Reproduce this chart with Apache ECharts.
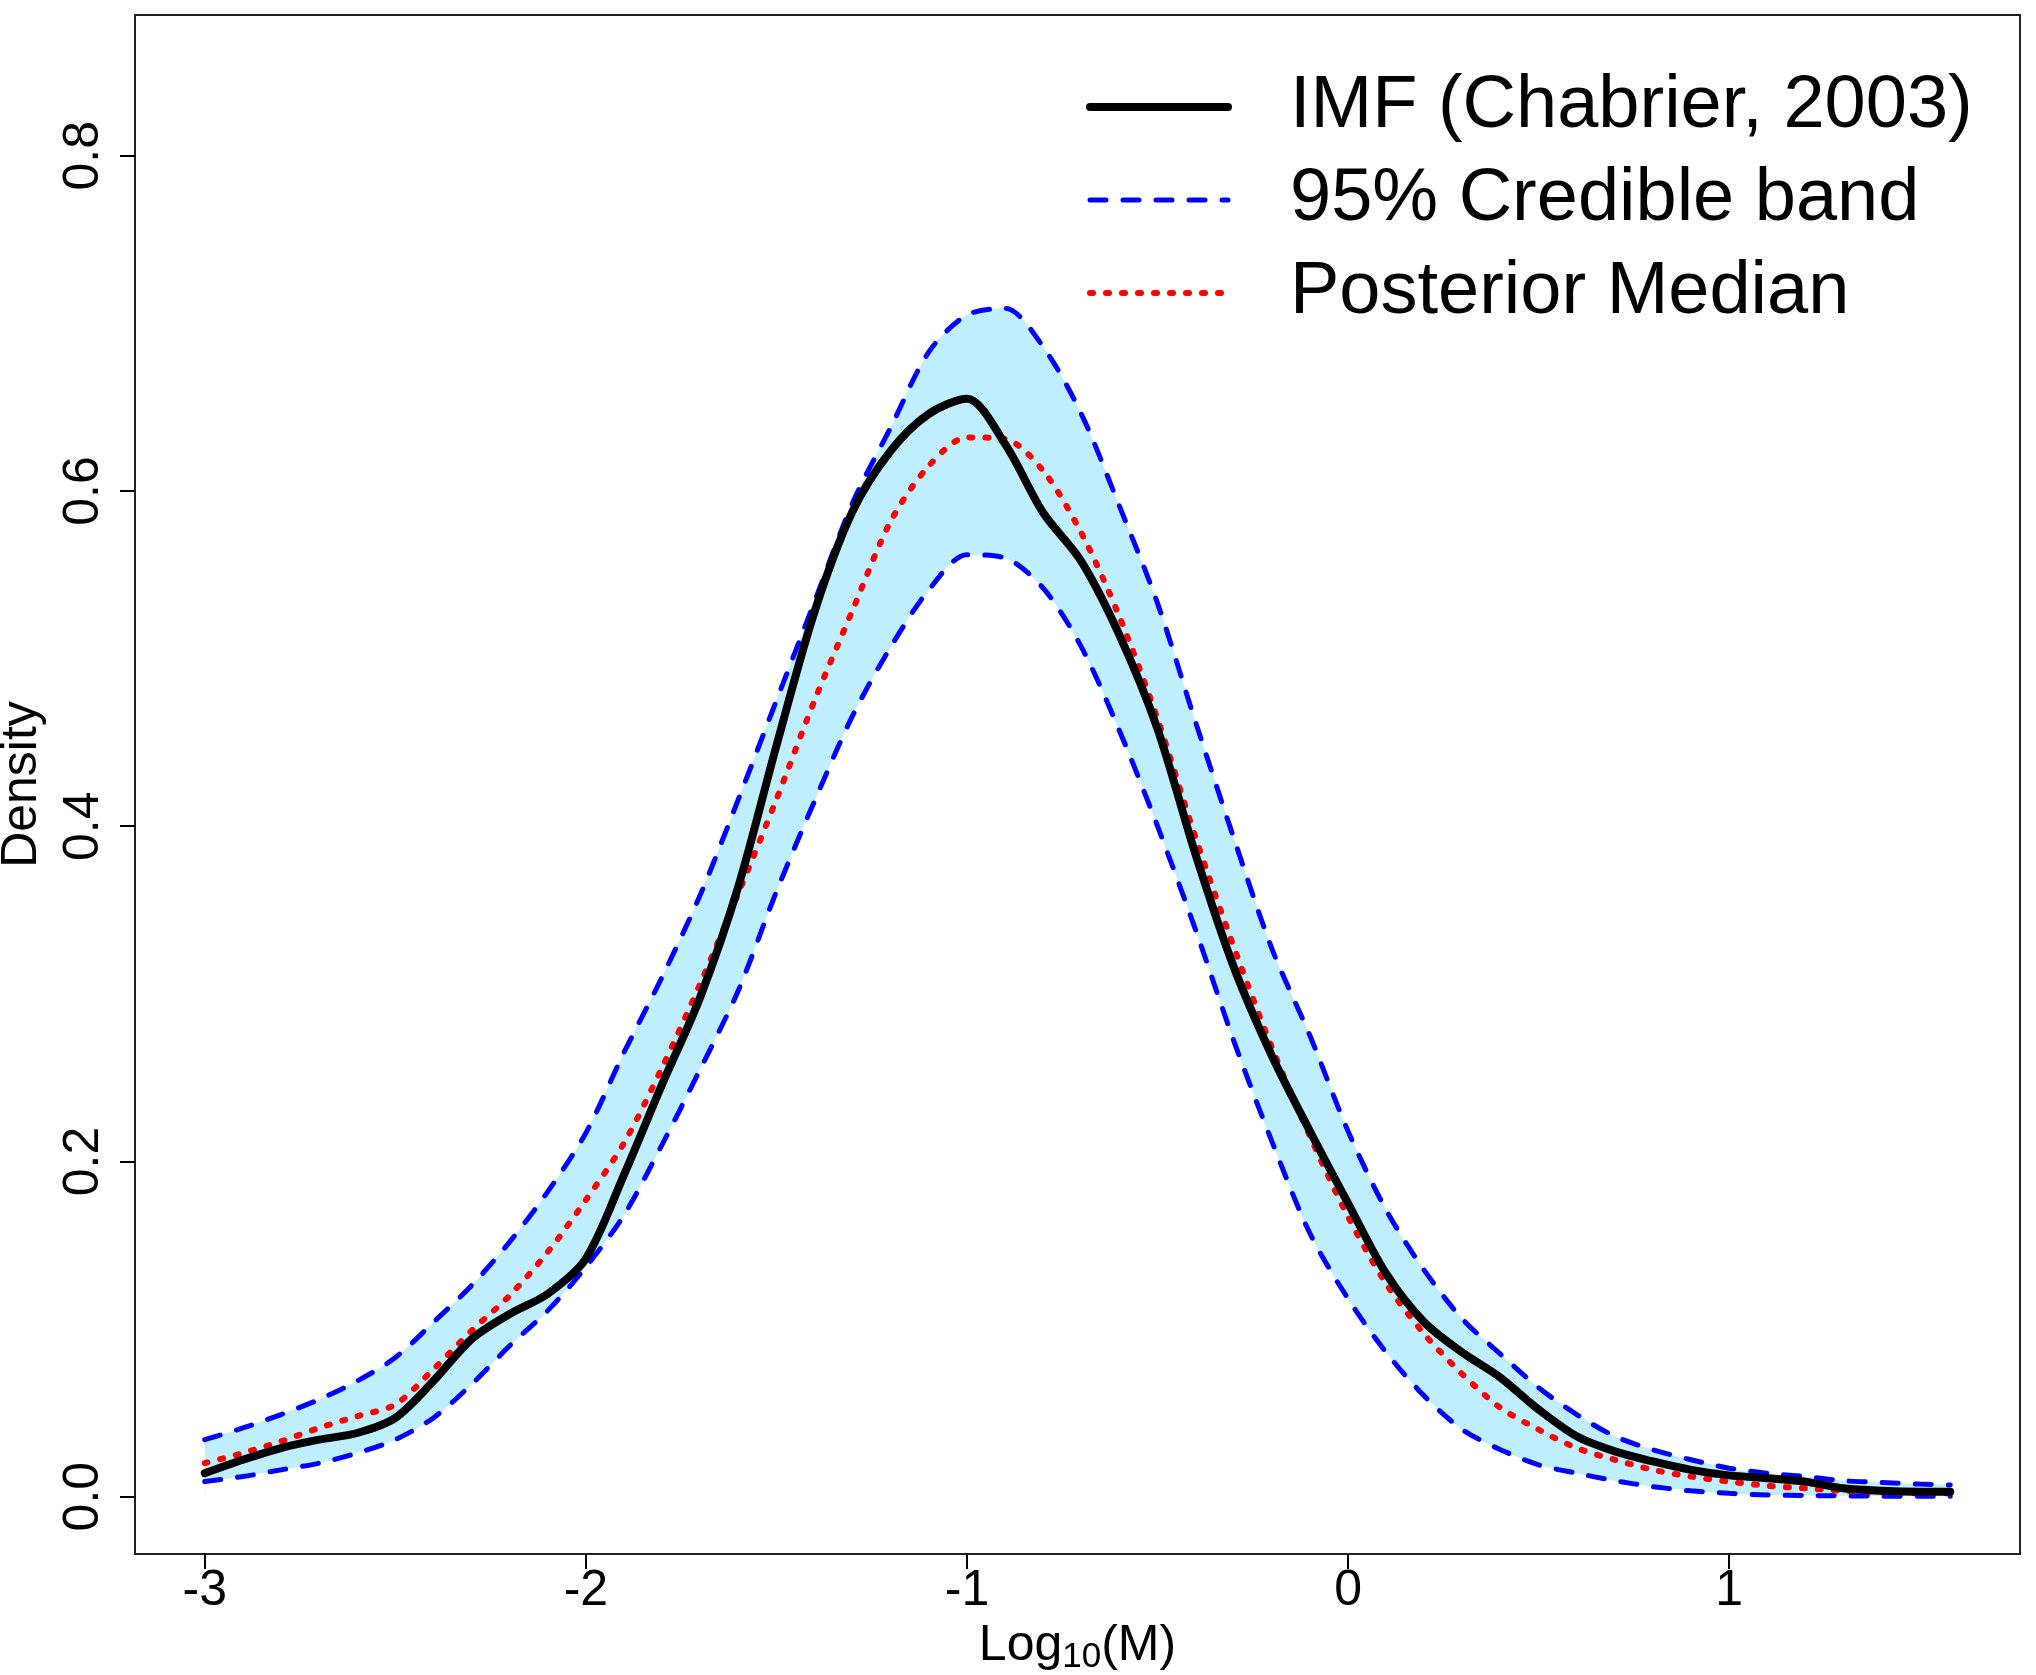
<!DOCTYPE html>
<html>
<head>
<meta charset="utf-8">
<script src="https://cdn.jsdelivr.net/npm/echarts@6/dist/echarts.min.js"></script>
<style>
  html, body { margin: 0; padding: 0; background: #fff; }
  #chart { width: 2036px; height: 1675px; }
</style>
</head>
<body>
<div id="chart"></div>
<script>
// log10 mass grid
const logM = [-3.0, -2.9, -2.8, -2.7, -2.6, -2.5, -2.4, -2.3, -2.2, -2.1,
  -2.0, -1.9, -1.8, -1.7, -1.6, -1.5, -1.4, -1.3, -1.2, -1.1,
  -1.0, -0.9, -0.8, -0.7, -0.6, -0.5, -0.4, -0.3, -0.2, -0.1,
  0.0, 0.1, 0.2, 0.3, 0.4, 0.5, 0.6, 0.7, 0.8, 0.9,
  1.0, 1.1, 1.2, 1.3, 1.4, 1.5, 1.58]

// IMF (Chabrier, 2003)
const imf = [0.014, 0.022, 0.029, 0.034, 0.038, 0.047, 0.069, 0.094, 0.109, 0.121,
  0.142, 0.192, 0.246, 0.298, 0.364, 0.448, 0.528, 0.588, 0.624, 0.646,
  0.655, 0.628, 0.587, 0.558, 0.514, 0.458, 0.383, 0.316, 0.263, 0.218,
  0.175, 0.133, 0.104, 0.086, 0.071, 0.052, 0.036, 0.027, 0.021, 0.016,
  0.0127, 0.011, 0.009, 0.005, 0.0035, 0.003, 0.003]

// posterior median
const median = [0.020, 0.026, 0.033, 0.041, 0.048, 0.055, 0.076, 0.099, 0.120, 0.146,
  0.177, 0.211, 0.256, 0.306, 0.360, 0.416, 0.475, 0.529, 0.582, 0.615,
  0.632, 0.631, 0.612, 0.575, 0.525, 0.464, 0.393, 0.328, 0.268, 0.215,
  0.167, 0.127, 0.097, 0.073, 0.053, 0.040, 0.029, 0.022, 0.016, 0.012,
  0.009, 0.0065, 0.005, 0.0035, 0.0027, 0.002, 0.002]

// 95% band, upper and lower
const upper = [0.034, 0.041, 0.049, 0.058, 0.069, 0.083, 0.104, 0.126, 0.152, 0.182,
  0.217, 0.265, 0.310, 0.359, 0.416, 0.475, 0.534, 0.593, 0.638, 0.683,
  0.705, 0.709, 0.686, 0.646, 0.591, 0.533, 0.462, 0.393, 0.327, 0.275,
  0.218, 0.171, 0.135, 0.106, 0.085, 0.065, 0.049, 0.036, 0.028, 0.022,
  0.017, 0.014, 0.012, 0.0095, 0.0085, 0.0075, 0.007]

const lower = [0.009, 0.012, 0.016, 0.020, 0.026, 0.034, 0.047, 0.067, 0.090, 0.111,
  0.137, 0.168, 0.210, 0.255, 0.302, 0.361, 0.415, 0.466, 0.507, 0.541,
  0.562, 0.560, 0.542, 0.507, 0.457, 0.400, 0.338, 0.272, 0.212, 0.157,
  0.118, 0.086, 0.060, 0.040, 0.028, 0.019, 0.014, 0.0095, 0.006, 0.0035,
  0.002, 0.001, 0.0007, 0.0005, 0.0003, 0.0002, 0.0002]

const xTicks = [-3, -2, -1, 0, 1]
const yTicks = [0, 0.2, 0.4, 0.6, 0.8]

const pairs = (ys) => logM.map((x, i) => [x, ys[i]])

const FONT = '"Liberation Sans", Arial, Helvetica, sans-serif'
const SMOOTH = 0.3

const blueDash = { color: '#0000ff', width: 5, type: [16, 17], cap: 'round' }
const redDot = { color: '#ff0000', width: 6, type: [3, 13], cap: 'round' }
const blackLine = { color: '#000', width: 8, cap: 'round' }

const chart = echarts.init(document.getElementById('chart'), null, { renderer: 'canvas' })

const option = {
  backgroundColor: '#fff',
  animation: false,
  textStyle: { fontFamily: FONT, color: '#000' },
  grid: {
    left: 135, right: 16, top: 15, bottom: 121,
    show: true, borderColor: '#222', borderWidth: 2,
    containLabel: false,
    outerBoundsMode: 'none'
  },
  legend: {
    orient: 'vertical',
    left: 1081, top: 62,
    itemWidth: 138, itemHeight: 20, itemGap: 13,
    itemStyle: { opacity: 0 },
    data: [
      { name: 'IMF (Chabrier, 2003)', lineStyle: blackLine },
      { name: '95% Credible band', lineStyle: blueDash },
      { name: 'Posterior Median', lineStyle: redDot }
    ],
    textStyle: { fontSize: 74, lineHeight: 80, color: '#000', fontFamily: FONT, padding: [0, 0, 0, 57] },
    selectedMode: false
  },
  xAxis: {
    type: 'value',
    min: -3.183, max: 1.763,
    splitLine: { show: false },
    axisLine: { show: false, onZero: false },
    axisTick: { show: true, customValues: xTicks, length: 15, lineStyle: { color: '#000', width: 2 } },
    axisLabel: { customValues: xTicks, fontSize: 50, color: '#000', margin: 12, fontFamily: FONT },
    name: '{a|Log}{b|10}{a|(M)}',
    nameLocation: 'middle',
    nameGap: 60,
    nameTextStyle: {
      rich: {
        a: { fontSize: 50, fontFamily: FONT, color: '#000' },
        b: { fontSize: 35, fontFamily: FONT, color: '#000', padding: [22, 0, 0, 0] }
      }
    }
  },
  yAxis: {
    type: 'value',
    min: -0.0342, max: 0.884,
    splitLine: { show: false },
    axisLine: { show: false, onZero: false },
    axisTick: { show: true, customValues: yTicks, length: 15, lineStyle: { color: '#000', width: 2 } },
    axisLabel: {
      customValues: yTicks, fontSize: 50, color: '#000', margin: 26, rotate: 90,
      fontFamily: FONT, formatter: (v) => v.toFixed(1)
    },
    name: 'Density',
    nameLocation: 'middle',
    nameRotate: 90,
    nameGap: 88,
    nameTextStyle: { fontSize: 50, color: '#000', fontFamily: FONT }
  },
  series: [
    // band fill: upper area, then the area under the lower bound masked white
    {
      name: 'bandUpperFill', type: 'line', data: pairs(upper),
      smooth: SMOOTH, symbol: 'none', silent: true,
      lineStyle: { opacity: 0 },
      areaStyle: { color: '#BFEFFF', opacity: 1, origin: 0 }, z: 1
    },
    {
      name: 'bandLowerMask', type: 'line', data: pairs(lower),
      smooth: SMOOTH, symbol: 'none', silent: true,
      lineStyle: { opacity: 0 },
      areaStyle: { color: '#ffffff', opacity: 1, origin: -0.02 }, z: 2
    },
    {
      name: '95% Credible band', type: 'line', data: pairs(upper),
      smooth: SMOOTH, symbol: 'none',
      lineStyle: blueDash, z: 3
    },
    {
      name: 'lowerBand', type: 'line', data: pairs(lower),
      smooth: SMOOTH, symbol: 'none',
      lineStyle: blueDash, z: 3
    },
    {
      name: 'Posterior Median', type: 'line', data: pairs(median),
      smooth: SMOOTH, symbol: 'none',
      lineStyle: redDot, z: 4
    },
    {
      name: 'IMF (Chabrier, 2003)', type: 'line', data: pairs(imf),
      smooth: SMOOTH, symbol: 'none',
      lineStyle: blackLine, z: 5
    }
  ]
}

chart.setOption(option)
</script>
</body>
</html>
